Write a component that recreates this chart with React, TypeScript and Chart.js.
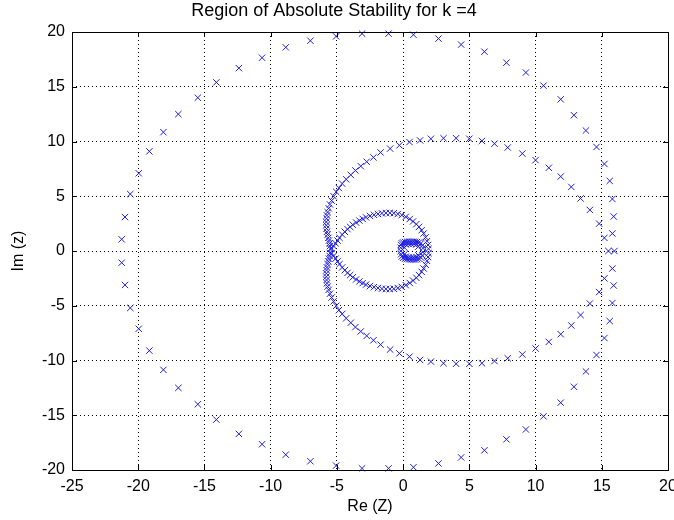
import React, { useEffect, useRef } from "react";
import { Chart, registerables } from "chart.js";

Chart.register(...registerables);

// ---- Data ----
const xTickValues = [-25, -20, -15, -10, -5, 0, 5, 10, 15, 20];
const yTickValues = [-20, -15, -10, -5, 0, 5, 10, 15, 20];

// Outer curve (large, sparse markers)
const outerRe = [
  15.95, 15.8, 15.9, 15.8, 15.6, 15.2, 14.6, 13.8, 12.9, 11.9, 10.6, 9.27, 7.8, 6.14, 4.38, 2.67, 0.78, -1.1, -3.1,
  -5.06, -7.0, -8.86, -10.65, -12.4, -14.1, -15.5, -16.97, -18.1, -19.16, -19.96, -20.6, -21.0, -21.25,
  -21.25, -21.0, -20.6, -19.96, -19.16, -18.1, -16.97, -15.5, -14.1, -12.4, -10.65, -8.86, -7.0, -5.06,
  -3.1, -1.1, 0.78, 2.67, 4.38, 6.14, 7.8, 9.27, 10.6, 11.9, 12.9, 13.8, 14.6, 15.2, 15.6, 15.8, 15.9, 15.8,
];
const outerIm = [
  0.0, 1.6, 3.15, 4.75, 6.4, 7.95, 9.5, 11.0, 12.4, 13.85, 15.1, 16.3, 17.2, 18.2, 18.85, 19.4, 19.75, 19.85, 19.85,
  19.6, 19.2, 18.6, 17.65, 16.7, 15.4, 14.0, 12.5, 10.85, 9.1, 7.1, 5.2, 3.1, 1.07,
  -1.07, -3.1, -5.2, -7.1, -9.1, -10.85, -12.5, -14.0, -15.4, -16.7, -17.65, -18.6, -19.2, -19.6,
  -19.85, -19.85, -19.75, -19.4, -18.85, -18.2, -17.2, -16.3, -15.1, -13.85, -12.4, -11.0, -9.5, -7.95, -6.4, -4.75, -3.15, -1.6,
];

// Inner curve (medium density, denser toward the crossing near Re = -5.5)
const innerRe = [
  15.5, 15.2, 14.8, 14.1, 13.4, 12.7, 11.9, 11.0, 10.0, 9.0, 7.9, 6.9, 5.95, 5.0, 4.0, 3.05, 2.1, 1.28, 0.48, -0.28,
  -0.98, -1.7, -2.24, -2.75, -3.2, -3.6, -3.95, -4.3, -4.6, -4.85, -5.05, -5.25, -5.4, -5.52, -5.62, -5.7, -5.75,
  -5.78, -5.8, -5.8, -5.78, -5.75, -5.7, -5.65, -5.6, -5.55, -5.52, -5.5,
  -5.52, -5.55, -5.6, -5.65, -5.7, -5.75, -5.78, -5.8, -5.8, -5.78, -5.75, -5.7, -5.62, -5.52, -5.4, -5.25, -5.05,
  -4.85, -4.6, -4.3, -3.95, -3.6, -3.2, -2.75, -2.24, -1.7, -0.98, -0.28, 0.48, 1.28, 2.1, 3.05, 4.0, 5.0, 5.95,
  6.9, 7.9, 9.0, 10.0, 11.0, 11.9, 12.7, 13.4, 14.1, 14.8, 15.2,
];
const innerIm = [
  0.0, 1.2, 2.5, 3.75, 4.8, 5.85, 6.8, 7.6, 8.3, 8.9, 9.45, 9.8, 10.05, 10.25, 10.3, 10.3, 10.25, 10.1, 9.95, 9.65,
  9.35, 9.0, 8.55, 8.15, 7.75, 7.35, 6.95, 6.55, 6.15, 5.75, 5.4, 5.0, 4.6, 4.25, 3.9, 3.55, 3.25,
  2.95, 2.65, 2.35, 2.05, 1.75, 1.5, 1.2, 0.95, 0.7, 0.45, 0.2,
  -0.2, -0.45, -0.7, -0.95, -1.2, -1.5, -1.75, -2.05, -2.35, -2.65, -2.95, -3.25, -3.55, -3.9, -4.25, -4.6, -5.0,
  -5.4, -5.75, -6.15, -6.55, -6.95, -7.35, -7.75, -8.15, -8.55, -9.0, -9.35, -9.65, -9.95, -10.1, -10.25, -10.3, -10.3, -10.25,
  -10.05, -9.8, -9.45, -8.9, -8.3, -7.6, -6.8, -5.85, -4.8, -3.75, -2.5, -1.2,
];

// Loop between the crossing (-5.5, 0) and Re ≈ 1.9 (dense markers)
const loopRe = [
  -5.4, -5.25, -5.1, -4.95, -4.8, -4.6, -4.4, -4.2, -4.0, -3.8, -3.55, -3.3, -3.05, -2.8, -2.5, -2.2, -1.9, -1.6,
  -1.3, -1.0, -0.7, -0.4, -0.1, 0.2, 0.5, 0.75, 1.0, 1.2, 1.4, 1.55, 1.7, 1.8, 1.88, 1.92,
  1.92, 1.88, 1.8, 1.7, 1.55, 1.4, 1.2, 1.0, 0.75, 0.5, 0.2, -0.1, -0.4, -0.7, -1.0, -1.3, -1.6, -1.9, -2.2,
  -2.5, -2.8, -3.05, -3.3, -3.55, -3.8, -4.0, -4.2, -4.4, -4.6, -4.8, -4.95, -5.1, -5.25, -5.4,
];
const loopIm = [
  0.2, 0.45, 0.7, 0.95, 1.2, 1.5, 1.75, 2.0, 2.2, 2.4, 2.6, 2.78, 2.93, 3.07, 3.2, 3.3, 3.38, 3.44,
  3.47, 3.48, 3.45, 3.38, 3.28, 3.12, 2.92, 2.7, 2.45, 2.2, 1.9, 1.6, 1.25, 0.9, 0.55, 0.2,
  -0.2, -0.55, -0.9, -1.25, -1.6, -1.9, -2.2, -2.45, -2.7, -2.92, -3.12, -3.28, -3.38, -3.45, -3.48, -3.47, -3.44, -3.38, -3.3,
  -3.2, -3.07, -2.93, -2.78, -2.6, -2.4, -2.2, -2.0, -1.75, -1.5, -1.2, -0.95, -0.7, -0.45, -0.2,
];

// Small dense loop near the origin
const smallRe = [
  -0.15, -0.1, 0.0, 0.15, 0.3, 0.45, 0.6, 0.75, 0.9, 1.05, 1.2, 1.35, 1.45, 1.5, 1.5, 1.45, 1.35, 1.2, 1.05,
  0.9, 0.75, 0.6, 0.45, 0.3, 0.15, 0.0, -0.1, -0.15, -0.18, -0.18,
  0.2, 0.4, 0.6, 0.8, 1.0, 1.15, 1.15, 1.0, 0.8, 0.6, 0.4, 0.2, 0.1, 0.1,
];
const smallIm = [
  0.55, 0.7, 0.78, 0.82, 0.84, 0.85, 0.85, 0.85, 0.84, 0.82, 0.78, 0.7, 0.5, 0.25, -0.1, -0.4, -0.6, -0.7, -0.75,
  -0.78, -0.78, -0.78, -0.76, -0.74, -0.7, -0.62, -0.5, -0.3, 0.0, 0.3,
  0.6, 0.65, 0.65, 0.65, 0.6, 0.4, -0.4, -0.55, -0.6, -0.6, -0.58, -0.52, -0.3, 0.3,
];

const COLOR = "rgb(30,30,225)";
const FONT = "'Liberation Sans', Arial, Helvetica, sans-serif";

const boxPlugin = {
  id: "matlabBox",
  afterDraw(chart: any) {
    const { ctx, chartArea } = chart;
    const { left, right, top, bottom } = chartArea;
    const xs = chart.scales.x;
    const ys = chart.scales.y;
    ctx.save();
    ctx.strokeStyle = "#000";
    ctx.lineWidth = 1;
    ctx.setLineDash([]);
    ctx.strokeRect(Math.round(left) + 0.5, Math.round(top) + 0.5, Math.round(right - left), Math.round(bottom - top));
    const L = 5;
    ctx.beginPath();
    xs.ticks.forEach((t: any) => {
      const px = Math.round(xs.getPixelForValue(t.value)) + 0.5;
      ctx.moveTo(px, bottom);
      ctx.lineTo(px, bottom - L);
      ctx.moveTo(px, top);
      ctx.lineTo(px, top + L);
    });
    ys.ticks.forEach((t: any) => {
      const py = Math.round(ys.getPixelForValue(t.value)) + 0.5;
      ctx.moveTo(left, py);
      ctx.lineTo(left + L, py);
      ctx.moveTo(right, py);
      ctx.lineTo(right - L, py);
    });
    ctx.stroke();
    ctx.restore();
  },
};

function pts(re: number[], im: number[]) {
  return re.map((x, i) => ({ x, y: im[i] }));
}

export default function App() {
  const ref = useRef<HTMLCanvasElement>(null);
  useEffect(() => {
    document.body.style.margin = "0";
    const canvas = ref.current!;
    const mk = (label: string, re: number[], im: number[]) => ({
      label,
      data: pts(re, im),
      showLine: false,
      pointStyle: "crossRot" as const,
      pointRadius: 4.5,
      pointHoverRadius: 4.5,
      pointBorderWidth: 1,
      pointBorderColor: COLOR,
      pointBackgroundColor: COLOR,
      clip: false as any,
    });
    const chart = new Chart(canvas, {
      type: "scatter",
      data: {
        datasets: [
          mk("outer", outerRe, outerIm),
          mk("inner", innerRe, innerIm),
          mk("loop", loopRe, loopIm),
          mk("small", smallRe, smallIm),
        ],
      },
      options: {
        responsive: false,
        animation: false,
        devicePixelRatio: 1,
        layout: { padding: { left: 0, right: 6, top: 0, bottom: 0 } },
        plugins: {
          legend: { display: false },
          tooltip: { enabled: false },
          title: {
            display: true,
            text: "Region of Absolute Stability for k =4",
            color: "#000",
            font: { family: FONT, size: 18, weight: "normal" },
            padding: { top: 0, bottom: 10.4 },
          },
        },
        scales: {
          x: {
            type: "linear",
            min: -25,
            max: 20,
            afterBuildTicks: (s: any) => {
              s.ticks = xTickValues.map((v) => ({ value: v }));
            },
            afterFit: (s: any) => {
              s.height = 50;
              s.paddingLeft = 0;
              s.paddingRight = 0;
            },
            ticks: {
              color: "#000",
              font: { family: FONT, size: 16 },
              padding: 7,
              maxRotation: 0,
              autoSkip: false,
            },
            grid: { color: "#000", lineWidth: 1, drawTicks: false },
            border: { display: false, dash: [1, 3] },
            title: {
              display: true,
              text: "Re (Z)",
              color: "#000",
              font: { family: FONT, size: 16 },
              padding: { top: 0, bottom: 4 },
            },
          },
          y: {
            type: "linear",
            min: -20,
            max: 20,
            afterBuildTicks: (s: any) => {
              s.ticks = yTickValues.map((v) => ({ value: v }));
            },
            afterFit: (s: any) => {
              s.width = 72;
              s.paddingTop = 0;
              s.paddingBottom = 0;
            },
            ticks: {
              color: "#000",
              font: { family: FONT, size: 16 },
              padding: 7,
              autoSkip: false,
            },
            grid: { color: "#000", lineWidth: 1, drawTicks: false },
            border: { display: false, dash: [1, 3] },
            title: {
              display: true,
              text: "Im (z)",
              color: "#000",
              font: { family: FONT, size: 16 },
              padding: { top: 9, bottom: 0 },
            },
          },
        },
      },
      plugins: [boxPlugin],
    });
    return () => chart.destroy();
  }, []);
  return <canvas ref={ref} width={674} height={520} style={{ display: "block" }} />;
}
